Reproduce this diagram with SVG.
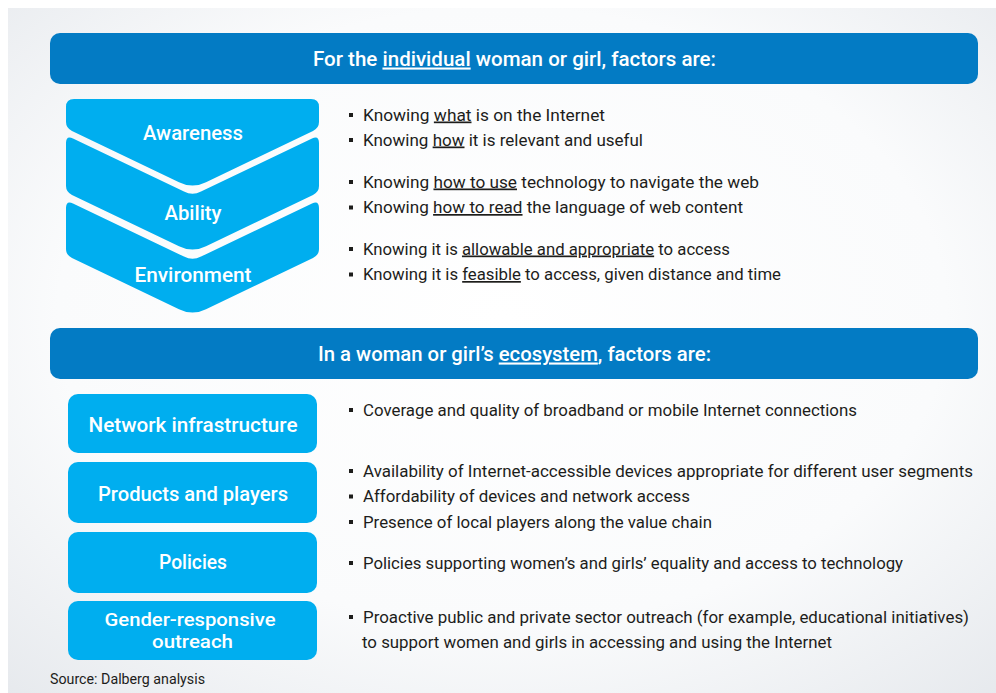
<svg xmlns="http://www.w3.org/2000/svg" width="996" height="693" viewBox="0 0 996 693">
<defs>
<radialGradient id="bg" cx="0.5" cy="0.45" r="0.75">
<stop offset="0" stop-color="#ffffff"/>
<stop offset="0.6" stop-color="#fafbfc"/>
<stop offset="1" stop-color="#e6e9ed"/>
</radialGradient>
<style>
.hdr{fill:#037bc4}
.box{fill:#00aeef}
.chev{fill:#00aeef}
.ht{font-family:Roboto,"Liberation Sans",sans-serif;font-weight:500;font-size:21px;fill:#ffffff;text-anchor:middle}
.ht2{font-family:Roboto,"Liberation Sans",sans-serif;font-weight:500;font-size:19px;fill:#ffffff;text-anchor:middle}
.bt{font-family:Roboto,"Liberation Sans",sans-serif;font-size:17px;fill:#1d1d1b}
.u{text-decoration:underline}
.bul{fill:#1d1d1b}
.src{font-family:Roboto,"Liberation Sans",sans-serif;font-size:14px;fill:#1d1d1b}
</style>
</defs>
<rect x="0" y="0" width="996" height="693" fill="#ffffff"/>
<rect x="8" y="8" width="988" height="685" fill="url(#bg)"/>

<g id="header-individual">
<rect class="hdr" x="50" y="33" width="928" height="51" rx="10"/>
<text class="ht" x="514.5" y="65.5" textLength="403" lengthAdjust="spacingAndGlyphs">For the <tspan class="u">individual</tspan> woman or girl, factors are:</text>
</g>

<g id="awareness">
<path class="chev" d="M66,107 Q66,99 74,99 H311 Q319,99 319,107 V122 Q319,128 313,130.9 L206,182.2 Q192.5,189 179,182.2 L72,130.9 Q66,128 66,122 Z"/>
<text class="ht" x="193" y="140" textLength="100" lengthAdjust="spacingAndGlyphs">Awareness</text>
</g>
<g id="ability">
<path class="chev" d="M66,143 Q66,135 73,138.4 L184,191.6 Q192.5,196 201,191.6 L312,138.4 Q319,135 319,143 V186 Q319,192 313,194.9 L206,246.2 Q192.5,253 179,246.2 L72,194.9 Q66,192 66,186 Z"/>
<text class="ht" x="193" y="220" textLength="57" lengthAdjust="spacingAndGlyphs">Ability</text>
</g>
<g id="environment">
<path class="chev" d="M66,208 Q66,200 73,203.4 L184,256.6 Q192.5,261 201,256.6 L312,203.4 Q319,200 319,208 V249 Q319,255 313,257.9 L206,309.2 Q192.5,316 179,309.2 L72,257.9 Q66,255 66,249 Z"/>
<text class="ht" x="193" y="282" textLength="117" lengthAdjust="spacingAndGlyphs">Environment</text>
</g>

<g id="individual-bullets">
<rect class="bul" x="349" y="113" width="4" height="4"/>
<text class="bt" x="363" y="120.5" textLength="242" lengthAdjust="spacingAndGlyphs">Knowing <tspan class="u">what</tspan> is on the Internet</text>
<rect class="bul" x="349" y="138" width="4" height="4"/>
<text class="bt" x="363" y="145.5" textLength="280" lengthAdjust="spacingAndGlyphs">Knowing <tspan class="u">how</tspan> it is relevant and useful</text>
<rect class="bul" x="349" y="180" width="4" height="4"/>
<text class="bt" x="363" y="187.5" textLength="396" lengthAdjust="spacingAndGlyphs">Knowing <tspan class="u">how to use</tspan> technology to navigate the web</text>
<rect class="bul" x="349" y="205.5" width="4" height="4"/>
<text class="bt" x="363" y="213" textLength="380" lengthAdjust="spacingAndGlyphs">Knowing <tspan class="u">how to read</tspan> the language of web content</text>
<rect class="bul" x="349" y="247" width="4" height="4"/>
<text class="bt" x="363" y="254.5" textLength="367" lengthAdjust="spacingAndGlyphs">Knowing it is <tspan class="u">allowable and appropriate</tspan> to access</text>
<rect class="bul" x="349" y="272.5" width="4" height="4"/>
<text class="bt" x="363" y="280" textLength="418" lengthAdjust="spacingAndGlyphs">Knowing it is <tspan class="u">feasible</tspan> to access, given distance and time</text>
</g>

<g id="header-ecosystem">
<rect class="hdr" x="50" y="328" width="928" height="51" rx="10"/>
<text class="ht" x="514.5" y="360.5" textLength="393" lengthAdjust="spacingAndGlyphs">In a woman or girl’s <tspan class="u">ecosystem</tspan>, factors are:</text>
</g>

<g id="network-infrastructure">
<rect class="box" x="68" y="394" width="249" height="59" rx="10"/>
<text class="ht" x="193" y="432" textLength="209" lengthAdjust="spacingAndGlyphs">Network infrastructure</text>
</g>
<g id="products-and-players">
<rect class="box" x="68" y="462" width="249" height="61" rx="10"/>
<text class="ht" x="193" y="501" textLength="190" lengthAdjust="spacingAndGlyphs">Products and players</text>
</g>
<g id="policies">
<rect class="box" x="68" y="532" width="249" height="61" rx="10"/>
<text class="ht" x="193" y="569" textLength="68" lengthAdjust="spacingAndGlyphs">Policies</text>
</g>
<g id="gender-responsive-outreach">
<rect class="box" x="68" y="601" width="249" height="59" rx="10"/>
<text class="ht2" x="190" y="625.5" textLength="171" lengthAdjust="spacingAndGlyphs">Gender-responsive</text>
<text class="ht2" x="192.5" y="648" textLength="81" lengthAdjust="spacingAndGlyphs">outreach</text>
</g>

<g id="ecosystem-bullets">
<rect class="bul" x="349" y="408" width="4" height="4"/>
<text class="bt" x="363" y="415.5" textLength="494" lengthAdjust="spacingAndGlyphs">Coverage and quality of broadband or mobile Internet connections</text>
<rect class="bul" x="349" y="469" width="4" height="4"/>
<text class="bt" x="363" y="476.5" textLength="610" lengthAdjust="spacingAndGlyphs">Availability of Internet-accessible devices appropriate for different user segments</text>
<rect class="bul" x="349" y="494.5" width="4" height="4"/>
<text class="bt" x="363" y="502" textLength="327" lengthAdjust="spacingAndGlyphs">Affordability of devices and network access</text>
<rect class="bul" x="349" y="520" width="4" height="4"/>
<text class="bt" x="363" y="527.5" textLength="349" lengthAdjust="spacingAndGlyphs">Presence of local players along the value chain</text>
<rect class="bul" x="349" y="561" width="4" height="4"/>
<text class="bt" x="363" y="568.5" textLength="540" lengthAdjust="spacingAndGlyphs">Policies supporting women’s and girls’ equality and access to technology</text>
<rect class="bul" x="349" y="615" width="4" height="4"/>
<text class="bt" x="363" y="622.5" textLength="606" lengthAdjust="spacingAndGlyphs">Proactive public and private sector outreach (for example, educational initiatives)</text>
<text class="bt" x="362" y="648" textLength="470" lengthAdjust="spacingAndGlyphs">to support women and girls in accessing and using the Internet</text>
</g>

<text class="src" x="50" y="684" textLength="155" lengthAdjust="spacingAndGlyphs">Source: Dalberg analysis</text>
</svg>
